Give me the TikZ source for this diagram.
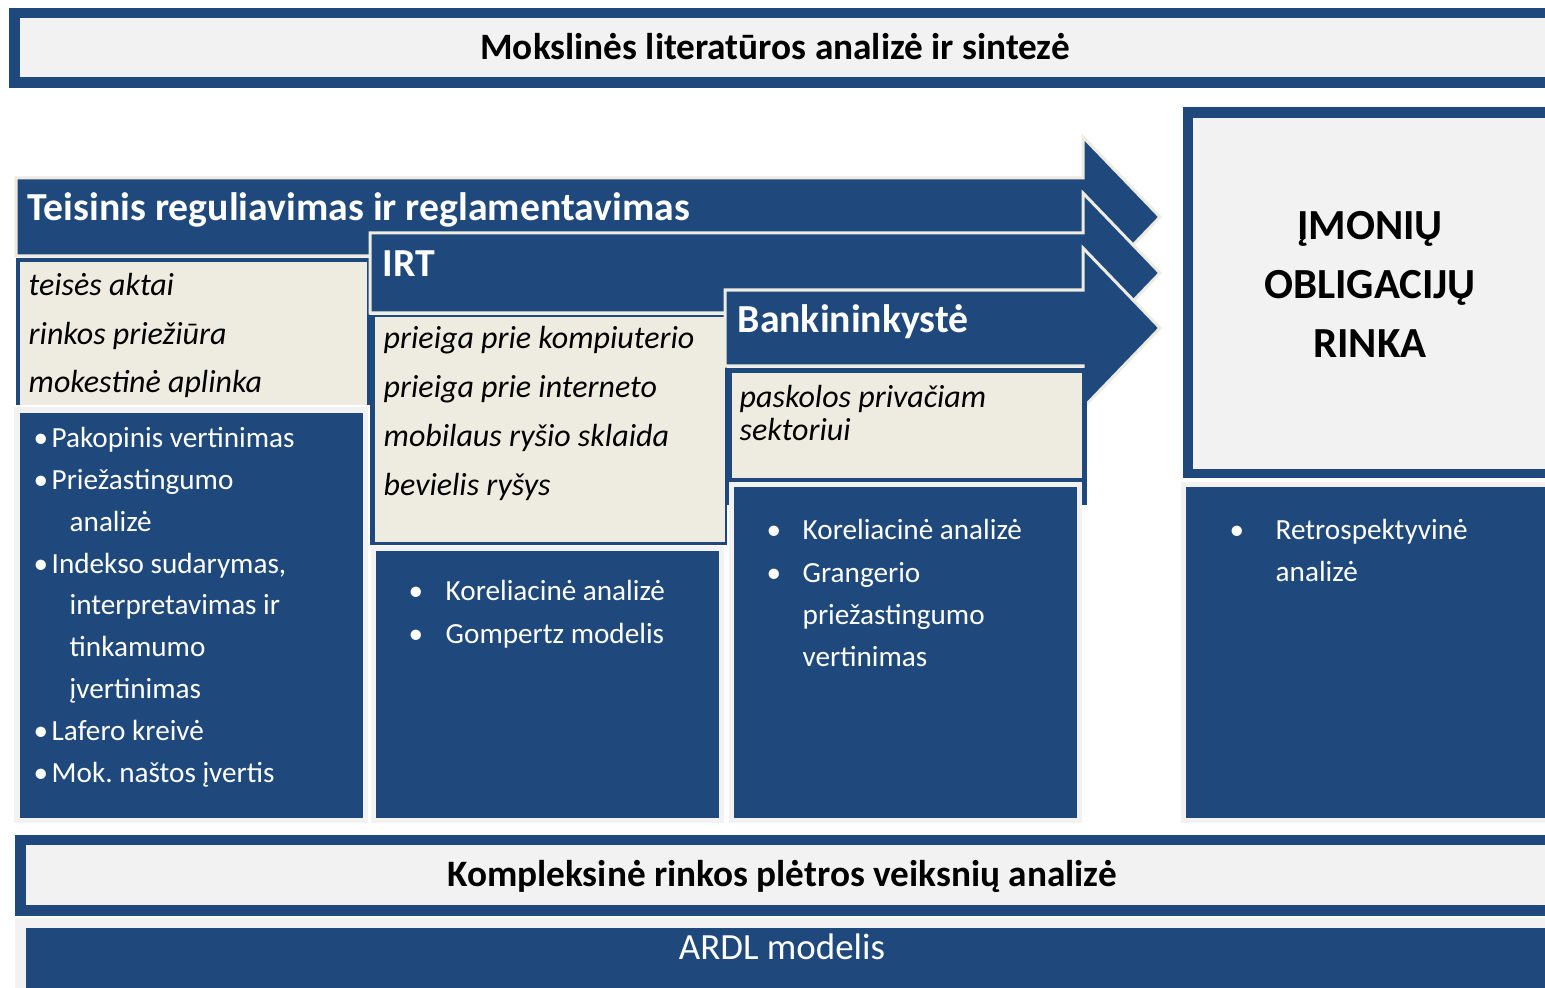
\documentclass[tikz,border=0pt]{standalone}
\usepackage{fontspec}
\setmainfont{Carlito}
\usetikzlibrary{calc}

\definecolor{navy}{HTML}{1F497D}
\definecolor{paper}{HTML}{EEECE1}
\definecolor{mist}{HTML}{F2F2F2}

\newcommand{\bul}[1][0.18cm]{\makebox[#1][l]{\textbullet}}
% one stacked arrow: left, top, bottom of the shaft
\newcommand{\flowarrow}[3]{%
  \pgfmathsetmacro{\midy}{(#2+#3)/2}
  \draw[arrowshape] (#1,#2) -- (1083,#2) -- (1083,\midy-80) -- (1160,\midy)
    -- (1083,\midy+80) -- (1083,#3) -- (#1,#3) -- cycle;}

\tikzset{
  arrowshape/.style={fill=navy, draw=paper, line width=0.03cm, line join=miter},
  colbox/.style={fill=navy, draw=mist, line width=0.05cm},
  heading/.style={text=white, font=\bfseries\fontsize{11.3}{13}\selectfont, anchor=base west, inner sep=0},
  factor/.style={font=\itshape\fontsize{9.1}{10}\selectfont, anchor=base west, inner sep=0},
  method/.style={text=white, font=\fontsize{8.3}{10}\selectfont, anchor=base west, inner sep=0},
  banner/.style={font=\bfseries\fontsize{10.6}{12}\selectfont, anchor=base, inner sep=0},
}

\begin{document}
\begin{tikzpicture}[x=0.01cm, y=-0.01cm]
    \useasboundingbox (0,0) rectangle (1545,988);

    % top banner
    \fill[navy] (9,8) rectangle (1545,88);
    \fill[mist] (20,18) rectangle (1545,77);
    \node[banner] (lit) at (775,60) {Mokslinės literatūros analizė ir sintezė};

    % stacked arrows with their factor boxes
    \flowarrow{16}{178}{256}
    \fill[navy] (16,258) rectangle (370,405);
    \fill[paper] (20,262) rectangle (367,405);
    \flowarrow{370}{233}{313}
    \fill[navy] (370,315) rectangle (727,545);
    \fill[paper] (375,317) rectangle (725,542);
    \flowarrow{725}{290}{366}
    \fill[navy] (725,368) rectangle (1087,505);
    \fill[paper] (732,373) rectangle (1082,478);

    \node[heading] (legal) at (27,221) {Teisinis reguliavimas ir reglamentavimas};
    \node[heading] (ict) at (382,277) {IRT};
    \node[heading] (bank) at (737,332) {Bankininkystė};

    \foreach \txt [count=\i] in {teisės aktai, rinkos priežiūra, mokestinė aplinka}
        \node[factor] (legalf\i) at (28,295+49*\i-49) {\txt};
    \foreach \txt [count=\i] in {prieiga prie kompiuterio, prieiga prie interneto,
        mobilaus ryšio sklaida, bevielis ryšys}
        \node[factor] (ictf\i) at (383,348+49.3*\i-49.3) {\txt};
    \node[factor] (bankf1) at (739,407) {paskolos privačiam};
    \node[factor] (bankf2) at (739,440) {sektoriui};

    % target market
    \fill[navy] (1183,107) rectangle (1545,478);
    \fill[mist] (1193,118) rectangle (1545,469);
    \foreach \txt [count=\i] in {ĮMONIŲ, OBLIGACIJŲ, RINKA}
        \node[banner, font=\bfseries\fontsize{12.2}{14}\selectfont] (market\i) at (1370,239+59*\i-59) {\txt};

    % method columns
    \draw[colbox] (17,410) rectangle (365,820);
    \draw[colbox] (373,548) rectangle (721,820);
    \draw[colbox] (731,484) rectangle (1079,820);
    \draw[colbox] (1183,484) rectangle (1560,820);

    \foreach \px/\py/\txt [count=\i] in {33/447/{\bul Pakopinis vertinimas}, 33/489/{\bul Priežastingumo},
        69/531/analizė, 33/573/{\bul Indekso sudarymas,}, 69/614/interpretavimas ir,
        69/656/tinkamumo, 69/698/įvertinimas, 33/740/{\bul Lafero kreivė}, 33/782/{\bul Mok.\ naštos įvertis}}
        \node[method] (legalm\i) at (\px,\py) {\txt};
    \node[method] (ictm1) at (408,600) {\bul[0.37cm]Koreliacinė analizė};
    \node[method] (ictm2) at (408,643) {\bul[0.37cm]Gompertz modelis};
    \node[method] (bankm1) at (766,539) {\bul[0.36cm]Koreliacinė analizė};
    \node[method] (bankm2) at (766,582) {\bul[0.36cm]Grangerio};
    \node[method] (bankm3) at (802,624) {priežastingumo};
    \node[method] (bankm4) at (802,666) {vertinimas};
    \node[method] (marketm1) at (1229,539) {\bul[0.46cm]Retrospektyvinė};
    \node[method] (marketm2) at (1275,581) {analizė};

    % bottom banners
    \fill[navy] (15,835) rectangle (1545,916);
    \fill[mist] (26,845) rectangle (1545,905);
    \node[banner] (complex) at (782,886) {Kompleksinė rinkos plėtros veiksnių analizė};
    \fill[mist] (15,918) rectangle (1545,988);
    \fill[navy] (26,928) rectangle (1545,988);
    \node[banner, font=\fontsize{10.5}{12}\selectfont, text=white] (ardl) at (782,959) {ARDL modelis};
\end{tikzpicture}
\end{document}
